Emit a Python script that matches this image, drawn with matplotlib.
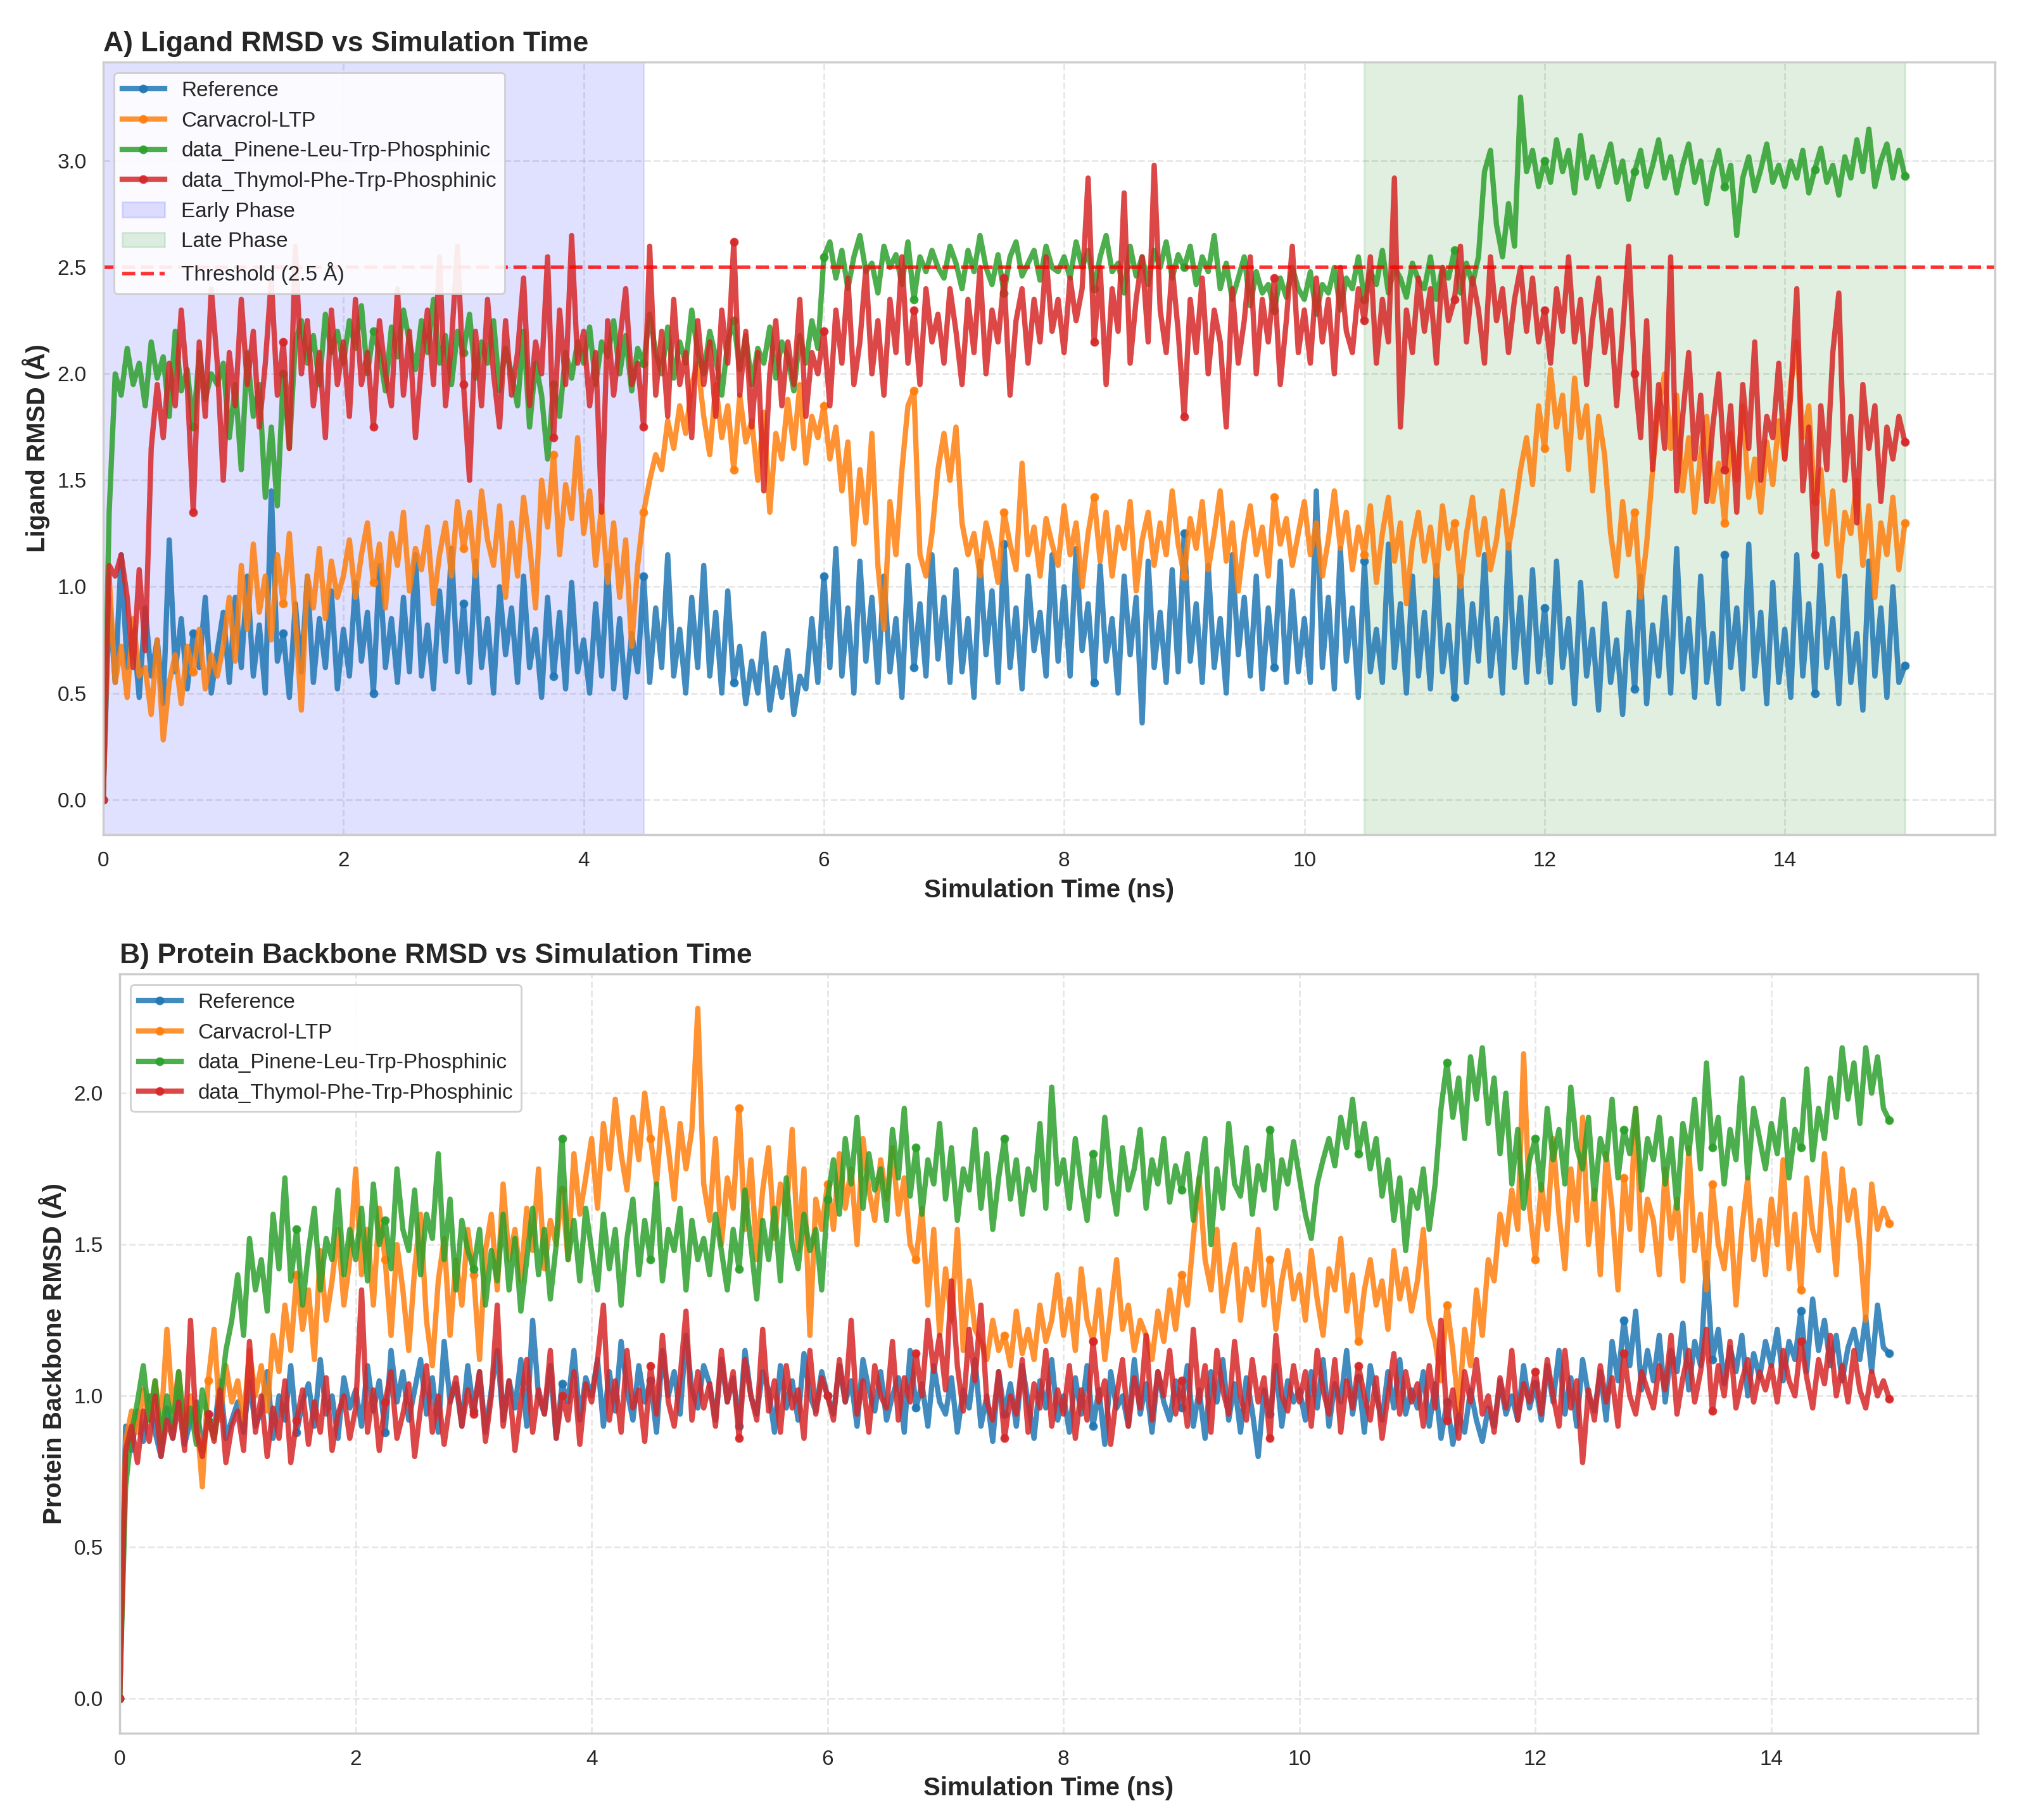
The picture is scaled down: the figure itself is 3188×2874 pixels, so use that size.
import numpy as np
import matplotlib
matplotlib.use('Agg')
import matplotlib.pyplot as plt

dt = 0.05  # ns between stored frames

# ---------------- Panel A: ligand RMSD (Å) ----------------
lig_ref = [
    0.00, 0.95, 0.55, 1.15, 0.62, 0.80, 0.48, 0.90, 0.58, 0.75, 0.45, 1.22, 0.60, 0.85, 0.52, 0.78, 0.62, 0.95, 0.50, 0.70,
    0.88, 0.55, 0.95, 0.62, 1.05, 0.58, 0.82, 0.50, 1.45, 0.65, 0.78, 0.48, 0.92, 0.60, 1.05, 0.55, 0.85, 0.62, 0.98, 0.52,
    0.80, 0.58, 1.02, 0.65, 0.88, 0.50, 1.10, 0.62, 0.85, 0.55, 0.95, 0.60, 1.15, 0.58, 0.82, 0.52, 0.98, 0.65, 1.18, 0.60,
    0.92, 0.55, 1.12, 0.62, 0.85, 0.50, 1.00, 0.68, 0.90, 0.55, 1.05, 0.62, 0.80, 0.48, 0.95, 0.58, 0.88, 0.52, 1.02, 0.60,
    0.75, 0.50, 0.92, 0.58, 1.10, 0.52, 0.85, 0.48, 0.78, 0.60, 1.05, 0.55, 0.90, 0.62, 1.15, 0.58, 0.80, 0.50, 0.95, 0.62,
    1.10, 0.58, 0.88, 0.50, 0.98, 0.55, 0.72, 0.45, 0.65, 0.50, 0.78, 0.42, 0.62, 0.48, 0.70, 0.40, 0.58, 0.52, 0.85, 0.55,
    1.05, 0.62, 1.18, 0.58, 0.90, 0.50, 1.12, 0.65, 0.95, 0.55, 1.05, 0.60, 0.85, 0.48, 1.10, 0.62, 0.92, 0.58, 1.15, 0.66,
    0.95, 0.55, 1.08, 0.60, 0.85, 0.48, 1.12, 0.68, 0.98, 0.55, 1.20, 0.62, 0.90, 0.52, 1.05, 0.70, 0.88, 0.58, 1.15, 0.65,
    1.00, 0.58, 1.18, 0.70, 0.92, 0.55, 1.10, 0.65, 0.85, 0.50, 1.05, 0.68, 0.95, 0.36, 1.12, 0.62, 0.88, 0.55, 1.08, 0.60,
    1.25, 0.65, 0.92, 0.55, 1.10, 0.62, 0.85, 0.50, 1.15, 0.68, 0.95, 0.58, 1.05, 0.52, 0.90, 0.62, 1.12, 0.55, 0.98, 0.60,
    0.85, 0.55, 1.45, 0.62, 0.95, 0.52, 1.18, 0.65, 0.90, 0.48, 1.12, 0.60, 0.80, 0.55, 1.20, 0.62, 0.92, 0.50, 1.05, 0.58,
    0.88, 0.52, 1.10, 0.60, 0.82, 0.48, 1.05, 0.55, 0.92, 0.65, 1.15, 0.58, 0.85, 0.50, 1.20, 0.62, 0.95, 0.55, 1.08, 0.60,
    0.90, 0.55, 1.12, 0.62, 0.85, 0.45, 1.02, 0.58, 0.80, 0.42, 0.92, 0.55, 0.75, 0.40, 0.88, 0.52, 1.05, 0.45, 0.82, 0.58,
    0.95, 0.50, 1.18, 0.60, 0.85, 0.48, 1.05, 0.55, 0.78, 0.45, 1.15, 0.62, 0.90, 0.52, 1.20, 0.58, 0.88, 0.45, 1.02, 0.55,
    0.80, 0.48, 1.15, 0.58, 0.92, 0.50, 1.10, 0.62, 0.85, 0.45, 1.05, 0.55, 0.78, 0.42, 1.12, 0.58, 0.90, 0.48, 1.00, 0.55,
    0.63]

lig_carv = [
    0.00, 1.05, 0.55, 0.72, 0.48, 0.85, 0.58, 0.62, 0.40, 0.75, 0.28, 0.55, 0.68, 0.45, 0.72, 0.60, 0.80, 0.52, 0.68, 0.58,
    0.72, 0.95, 0.65, 1.10, 0.80, 1.20, 0.88, 1.05, 0.75, 1.15, 0.92, 1.25, 0.85, 0.42, 1.05, 0.90, 1.18, 0.85, 1.12, 0.95,
    1.05, 1.22, 0.95, 1.15, 1.30, 1.02, 1.20, 0.90, 1.25, 1.10, 1.35, 0.98, 1.18, 1.08, 1.28, 0.92, 1.15, 1.30, 1.05, 1.40,
    1.18, 1.35, 1.05, 1.45, 1.22, 1.10, 1.38, 0.95, 1.30, 1.05, 1.42, 1.20, 0.90, 1.50, 1.28, 1.62, 1.15, 1.48, 1.32, 1.70,
    1.25, 1.45, 1.10, 1.38, 1.02, 1.30, 0.95, 1.22, 0.72, 1.10, 1.35, 1.50, 1.62, 1.55, 1.78, 1.65, 1.85, 1.72, 1.95, 2.05,
    1.80, 1.62, 1.95, 1.70, 1.85, 1.55, 1.90, 1.68, 1.78, 1.50, 1.82, 1.35, 1.72, 1.60, 1.88, 1.65, 1.95, 1.58, 1.80, 1.70,
    1.85, 1.60, 1.75, 1.45, 1.68, 1.20, 1.55, 1.30, 1.72, 1.10, 0.80, 1.40, 1.15, 1.55, 1.85, 1.92, 1.15, 1.05, 1.25, 1.55,
    1.72, 1.50, 1.75, 1.30, 1.15, 1.25, 1.05, 1.30, 1.18, 1.02, 1.35, 1.20, 1.08, 1.58, 1.15, 1.28, 1.05, 1.32, 1.20, 1.10,
    1.38, 1.15, 1.30, 1.00, 1.25, 1.42, 1.12, 1.35, 1.05, 1.28, 1.18, 1.40, 0.98, 1.22, 1.35, 1.10, 1.30, 1.15, 1.45, 1.20,
    1.05, 1.32, 1.18, 1.40, 1.08, 1.25, 1.45, 1.12, 1.30, 0.98, 1.22, 1.38, 1.15, 1.28, 1.05, 1.42, 1.20, 1.32, 1.10, 1.25,
    1.40, 1.15, 1.30, 1.05, 1.22, 1.45, 1.18, 1.35, 1.08, 1.28, 1.15, 1.38, 1.02, 1.25, 1.42, 1.12, 1.30, 0.92, 1.20, 1.35,
    1.12, 1.28, 1.05, 1.38, 1.18, 1.30, 1.00, 1.25, 1.42, 1.15, 1.32, 1.08, 1.22, 1.45, 1.18, 1.35, 1.55, 1.70, 1.48, 1.85,
    1.65, 2.02, 1.75, 1.90, 1.55, 1.98, 1.70, 1.85, 1.45, 1.80, 1.62, 1.25, 1.05, 1.40, 1.15, 1.35, 0.95, 1.20, 1.55, 1.85,
    2.00, 1.65, 1.90, 1.45, 1.70, 1.35, 1.62, 1.80, 1.40, 1.58, 1.30, 1.72, 1.50, 1.85, 1.42, 1.60, 1.35, 1.68, 1.48, 1.78,
    1.60, 1.95, 2.15, 1.70, 1.85, 1.40, 1.55, 1.20, 1.45, 1.05, 1.35, 1.25, 1.50, 1.10, 1.38, 0.95, 1.30, 1.15, 1.42, 1.08,
    1.30]

lig_pin = [
    0.00, 1.35, 2.00, 1.90, 2.12, 1.95, 2.05, 1.85, 2.15, 1.98, 2.08, 1.80, 2.20, 1.92, 2.02, 1.75, 2.10, 1.88, 2.00, 1.95,
    2.05, 1.70, 1.95, 1.55, 2.10, 1.80, 1.95, 1.42, 1.75, 1.38, 2.00, 1.65, 2.15, 2.25, 2.05, 2.18, 1.95, 2.28, 2.10, 2.20,
    2.05, 2.25, 2.12, 2.32, 2.00, 2.20, 2.10, 1.92, 2.22, 2.08, 2.30, 2.15, 2.02, 2.25, 2.10, 2.35, 2.05, 2.18, 1.95, 2.20,
    2.10, 2.28, 1.98, 2.15, 2.05, 2.25, 1.92, 2.12, 2.00, 1.85, 2.20, 1.75, 2.05, 1.90, 1.60, 1.95, 1.80, 2.10, 1.98, 2.15,
    2.05, 2.22, 1.95, 2.15, 2.08, 2.25, 2.00, 2.18, 1.92, 2.12, 2.05, 2.28, 2.10, 2.00, 2.22, 1.98, 2.15, 2.05, 2.30, 2.10,
    2.00, 2.20, 2.08, 1.90, 2.15, 2.25, 2.02, 2.18, 1.95, 2.12, 2.05, 2.22, 1.98, 2.15, 2.08, 1.92, 2.18, 2.05, 2.25, 2.12,
    2.55, 2.62, 2.45, 2.58, 2.40, 2.55, 2.65, 2.48, 2.52, 2.38, 2.60, 2.50, 2.56, 2.42, 2.62, 2.35, 2.55, 2.48, 2.58, 2.50,
    2.45, 2.60, 2.52, 2.40, 2.58, 2.48, 2.65, 2.50, 2.42, 2.56, 2.38, 2.55, 2.62, 2.46, 2.52, 2.58, 2.44, 2.60, 2.50, 2.48,
    2.55, 2.45, 2.62, 2.50, 2.58, 2.40, 2.55, 2.65, 2.48, 2.52, 2.38, 2.60, 2.46, 2.55, 2.42, 2.58, 2.50, 2.62, 2.45, 2.56,
    2.50, 2.60, 2.42, 2.55, 2.48, 2.65, 2.40, 2.52, 2.35, 2.45, 2.55, 2.32, 2.48, 2.38, 2.42, 2.30, 2.45, 2.36, 2.50, 2.40,
    2.35, 2.48, 2.28, 2.42, 2.38, 2.50, 2.30, 2.45, 2.40, 2.55, 2.35, 2.48, 2.42, 2.58, 2.38, 2.50, 2.45, 2.36, 2.52, 2.44,
    2.40, 2.55, 2.35, 2.50, 2.45, 2.58, 2.38, 2.52, 2.42, 2.55, 2.95, 3.05, 2.70, 2.55, 2.80, 2.60, 3.30, 2.95, 3.05, 2.88,
    3.00, 2.90, 3.10, 2.95, 3.05, 2.85, 3.12, 2.92, 3.02, 2.88, 2.98, 3.08, 2.90, 3.00, 2.82, 2.95, 3.05, 2.88, 2.98, 3.10,
    2.92, 3.02, 2.85, 2.98, 3.08, 2.90, 3.00, 2.80, 2.95, 3.05, 2.88, 2.98, 2.65, 2.92, 3.02, 2.86, 2.96, 3.08, 2.90, 2.98,
    2.88, 3.00, 2.92, 3.05, 2.85, 2.96, 3.06, 2.90, 2.98, 2.84, 3.02, 2.92, 3.10, 2.95, 3.15, 2.88, 3.00, 3.08, 2.92, 3.05,
    2.93]

lig_thy = [
    0.00, 1.10, 1.05, 1.15, 0.95, 0.62, 1.08, 0.70, 1.65, 1.95, 1.70, 2.05, 1.85, 2.30, 1.95, 1.35, 2.15, 1.80, 2.40, 2.05,
    1.50, 2.10, 1.85, 2.35, 1.95, 2.20, 1.75, 2.05, 2.45, 1.90, 2.15, 1.65, 2.60, 2.00, 2.25, 1.85, 2.10, 1.70, 2.30, 1.95,
    2.15, 1.80, 2.35, 1.95, 2.10, 1.75, 2.25, 2.00, 1.85, 2.40, 1.90, 2.20, 1.70, 2.05, 2.30, 1.95, 2.55, 1.85, 2.15, 2.60,
    1.95, 1.50, 2.20, 1.85, 2.35, 2.00, 1.75, 2.25, 1.90, 2.10, 2.45, 1.85, 2.15, 2.00, 2.55, 1.70, 2.30, 1.95, 2.65, 2.05,
    2.20, 1.85, 2.10, 1.35, 2.25, 1.90, 2.15, 2.40, 1.95, 2.05, 1.75, 2.60, 1.90, 2.20, 1.80, 2.35, 1.95, 2.10, 1.70, 2.25,
    1.95, 2.15, 1.80, 2.30, 2.05, 2.62, 1.90, 2.20, 1.75, 2.10, 1.45, 2.00, 2.25, 1.85, 2.15, 1.95, 2.35, 1.80, 2.10, 2.00,
    2.20, 1.85, 2.30, 2.05, 2.45, 1.95, 2.15, 2.50, 2.00, 2.25, 1.90, 2.35, 2.10, 2.55, 2.05, 2.30, 1.95, 2.40, 2.15, 2.28,
    2.05, 2.40, 2.20, 1.95, 2.35, 2.10, 2.50, 2.00, 2.30, 2.15, 2.45, 1.90, 2.25, 2.40, 2.05, 2.35, 2.15, 2.55, 2.20, 2.35,
    2.10, 2.45, 2.25, 2.40, 2.92, 2.15, 2.50, 1.95, 2.40, 2.20, 2.85, 2.05, 2.35, 2.55, 2.15, 2.98, 2.30, 2.10, 2.50, 2.20,
    1.80, 2.35, 2.10, 2.45, 2.00, 2.30, 2.15, 1.75, 2.40, 2.05, 2.25, 2.55, 2.00, 2.35, 2.15, 2.45, 1.95, 2.25, 2.60, 2.10,
    2.30, 2.05, 2.45, 2.15, 2.35, 2.00, 2.50, 2.20, 2.10, 2.40, 2.25, 2.55, 2.05, 2.35, 2.15, 2.92, 1.75, 2.30, 2.10, 2.45,
    2.20, 2.40, 2.05, 2.50, 2.25, 2.35, 2.60, 2.15, 2.45, 2.30, 2.05, 2.55, 2.25, 2.40, 2.10, 2.35, 2.50, 2.20, 2.45, 2.15,
    2.30, 2.05, 2.40, 2.20, 2.55, 2.15, 2.35, 1.95, 2.25, 2.45, 2.10, 2.30, 1.85, 2.20, 2.60, 2.00, 1.70, 2.25, 1.55, 1.95,
    1.65, 2.55, 1.45, 1.80, 2.10, 1.60, 1.90, 1.40, 1.75, 2.00, 1.55, 1.85, 1.35, 1.95, 1.65, 2.15, 1.50, 1.80, 1.70, 2.05,
    1.60, 1.90, 2.40, 1.45, 1.75, 1.15, 1.85, 1.55, 2.10, 2.38, 1.50, 1.80, 1.30, 1.95, 1.65, 1.85, 1.40, 1.75, 1.60, 1.80,
    1.68]

# ---------------- Panel B: protein backbone RMSD (Å) ----------------
bb_ref = [
    0.00, 0.90, 0.82, 0.95, 0.85, 1.00, 0.88, 0.80, 0.96, 0.86, 1.02, 0.84, 0.92, 0.98, 0.82, 0.94, 0.88, 1.05, 0.86, 0.92,
    0.98, 0.88, 1.05, 0.90, 0.95, 1.08, 0.86, 1.00, 0.92, 1.10, 0.88, 0.98, 1.04, 0.90, 1.12, 0.94, 1.00, 0.86, 1.06, 0.96,
    1.02, 0.90, 1.10, 0.95, 1.05, 0.88, 1.15, 0.98, 1.08, 0.92, 1.02, 1.12, 0.94, 1.06, 0.88, 1.18, 0.98, 1.04, 0.90, 1.10,
    0.95, 1.08, 0.88, 1.02, 1.15, 0.92, 1.05, 0.96, 1.12, 0.90, 1.25, 1.00, 0.94, 1.10, 0.86, 1.04, 0.98, 1.15, 0.92, 1.06,
    1.00, 1.12, 0.90, 1.08, 0.95, 1.18, 1.02, 0.92, 1.10, 0.98, 1.05, 0.88, 1.15, 1.00, 1.08, 0.94, 1.20, 1.02, 0.96, 1.10,
    1.04, 0.92, 1.12, 0.98, 1.06, 0.90, 1.15, 1.00, 0.94, 1.08, 1.02, 0.88, 1.10, 0.96, 1.05, 0.92, 1.14, 1.00, 0.95, 1.08,
    1.00, 0.94, 1.10, 0.98, 1.05, 0.90, 1.12, 1.02, 0.95, 1.08, 0.92, 1.00, 1.06, 0.88, 1.15, 0.96, 1.04, 0.90, 1.10, 0.98,
    0.94, 1.06, 0.88, 1.02, 0.96, 1.12, 0.90, 1.00, 0.85, 1.08, 0.94, 1.04, 0.90, 1.10, 0.98, 0.86, 1.05, 0.96, 1.12, 0.92,
    1.00, 0.88, 1.06, 0.94, 1.10, 0.90, 1.02, 0.84, 1.08, 0.96, 1.00, 0.90, 1.12, 0.94, 1.04, 0.88, 1.08, 0.98, 0.92, 1.05,
    0.96, 1.10, 0.90, 1.02, 0.86, 1.08, 0.98, 1.12, 0.92, 1.04, 0.88, 1.06, 0.95, 0.80, 1.02, 0.94, 1.10, 0.90, 1.05, 0.98,
    1.02, 0.92, 1.08, 0.96, 1.12, 0.90, 1.04, 0.98, 1.15, 0.94, 1.06, 0.88, 1.10, 1.00, 0.92, 1.08, 0.96, 1.12, 0.94, 1.02,
    0.96, 1.08, 0.90, 1.04, 0.86, 0.98, 0.84, 0.94, 0.88, 1.02, 0.92, 0.85, 0.96, 0.90, 1.05, 0.94, 1.00, 0.92, 1.10, 0.96,
    1.04, 0.92, 1.10, 0.98, 1.15, 0.94, 1.06, 0.90, 1.12, 1.00, 0.95, 1.08, 0.92, 1.18, 1.05, 1.25, 1.10, 1.28, 1.02, 1.15,
    1.05, 1.20, 0.98, 1.15, 1.08, 1.24, 1.02, 1.18, 1.10, 1.44, 1.12, 1.22, 1.04, 1.16, 1.08, 1.20, 1.00, 1.14, 1.06, 1.18,
    1.10, 1.22, 1.05, 1.18, 1.12, 1.28, 1.08, 1.32, 1.15, 1.25, 1.10, 1.20, 1.05, 1.16, 1.22, 1.12, 1.26, 1.08, 1.30, 1.16,
    1.14]

bb_carv = [
    0.00, 0.85, 0.95, 0.88, 1.02, 0.92, 1.05, 0.90, 1.22, 0.95, 1.08, 0.88, 1.00, 0.94, 0.70, 1.05, 1.22, 0.92, 1.10, 0.98,
    1.05, 0.92, 1.15, 1.00, 1.10, 0.95, 1.20, 1.08, 1.30, 1.15, 1.40, 1.22, 1.35, 1.12, 1.48, 1.25, 1.38, 1.55, 1.30, 1.45,
    1.75, 1.40, 1.55, 1.30, 1.62, 1.45, 1.20, 1.50, 1.35, 1.15, 1.42, 1.60, 1.25, 1.10, 1.38, 1.52, 1.20, 1.45, 1.30, 1.55,
    1.40, 1.12, 1.48, 1.60, 1.35, 1.70, 1.45, 1.55, 1.38, 1.62, 1.48, 1.75, 1.42, 1.58, 1.50, 1.68, 1.45, 1.80, 1.60, 1.72,
    1.85, 1.62, 1.90, 1.75, 1.98, 1.80, 1.68, 1.92, 1.78, 2.00, 1.85, 1.70, 1.95, 1.82, 1.65, 1.90, 1.75, 1.88, 2.28, 1.70,
    1.58, 1.85, 1.50, 1.72, 1.62, 1.95, 1.55, 1.78, 1.45, 1.68, 1.82, 1.52, 1.70, 1.60, 1.88, 1.48, 1.75, 1.20, 1.65, 1.55,
    1.70, 1.55, 1.80, 1.62, 1.75, 1.50, 1.85, 1.68, 1.58, 1.78, 1.65, 1.82, 1.60, 1.72, 1.50, 1.45, 1.62, 1.30, 1.55, 1.20,
    1.42, 1.25, 1.55, 1.15, 1.38, 1.22, 1.18, 1.12, 1.25, 1.15, 1.20, 1.10, 1.28, 1.14, 1.22, 1.12, 1.30, 1.18, 1.25, 1.40,
    1.20, 1.32, 1.15, 1.42, 1.25, 1.18, 1.35, 1.12, 1.28, 1.45, 1.22, 1.30, 1.15, 1.25, 1.20, 1.12, 1.28, 1.18, 1.35, 1.22,
    1.40, 1.30, 1.52, 1.72, 1.45, 1.35, 1.55, 1.28, 1.40, 1.50, 1.25, 1.42, 1.35, 1.55, 1.30, 1.45, 1.22, 1.38, 1.48, 1.32,
    1.40, 1.25, 1.48, 1.32, 1.20, 1.42, 1.35, 1.52, 1.28, 1.40, 1.18, 1.35, 1.45, 1.30, 1.38, 1.22, 1.48, 1.32, 1.42, 1.28,
    1.38, 1.55, 1.25, 1.18, 1.05, 1.30, 1.15, 0.95, 1.22, 1.10, 1.35, 1.20, 1.45, 1.38, 1.60, 1.50, 1.68, 1.55, 2.13, 1.62,
    1.45, 1.70, 1.55, 1.85, 1.60, 1.42, 1.75, 1.58, 1.92, 1.50, 1.68, 1.40, 1.80, 1.62, 1.35, 1.72, 1.55, 1.95, 1.48, 1.65,
    1.58, 1.40, 1.75, 1.52, 1.65, 1.38, 1.82, 1.48, 1.60, 1.35, 1.70, 1.50, 1.42, 1.62, 1.30, 1.55, 1.72, 1.45, 1.58, 1.40,
    1.65, 1.50, 1.78, 1.42, 1.60, 1.35, 1.72, 1.55, 1.48, 1.80, 1.62, 1.40, 1.75, 1.58, 1.68, 1.50, 1.25, 1.70, 1.55, 1.62,
    1.57]

bb_pin = [
    0.00, 0.70, 0.88, 0.98, 1.10, 0.92, 1.05, 0.85, 1.00, 0.90, 1.08, 0.88, 0.96, 0.84, 1.02, 0.92, 0.86, 0.98, 1.15, 1.25,
    1.40, 1.20, 1.52, 1.35, 1.45, 1.28, 1.60, 1.42, 1.72, 1.38, 1.55, 1.30, 1.48, 1.62, 1.35, 1.52, 1.45, 1.68, 1.40, 1.55,
    1.45, 1.62, 1.38, 1.70, 1.50, 1.58, 1.42, 1.75, 1.55, 1.48, 1.68, 1.40, 1.60, 1.52, 1.80, 1.45, 1.65, 1.35, 1.58, 1.48,
    1.42, 1.55, 1.30, 1.48, 1.38, 1.60, 1.35, 1.52, 1.28, 1.45, 1.62, 1.40, 1.55, 1.32, 1.50, 1.85, 1.45, 1.58, 1.38, 1.62,
    1.48, 1.35, 1.60, 1.42, 1.55, 1.30, 1.52, 1.65, 1.40, 1.58, 1.45, 1.70, 1.38, 1.55, 1.48, 1.62, 1.35, 1.58, 1.45, 1.52,
    1.40, 1.60, 1.48, 1.35, 1.55, 1.42, 1.68, 1.50, 1.32, 1.58, 1.45, 1.62, 1.38, 1.72, 1.50, 1.42, 1.60, 1.48, 1.55, 1.35,
    1.65, 1.78, 1.60, 1.85, 1.70, 1.92, 1.62, 1.80, 1.68, 1.75, 1.58, 1.88, 1.72, 1.95, 1.66, 1.82, 1.60, 1.78, 1.70, 1.90,
    1.65, 1.82, 1.58, 1.75, 1.68, 1.88, 1.62, 1.80, 1.55, 1.72, 1.85, 1.65, 1.78, 1.60, 1.75, 1.68, 1.90, 1.62, 2.02, 1.70,
    1.78, 1.62, 1.85, 1.70, 1.58, 1.80, 1.66, 1.92, 1.72, 1.60, 1.82, 1.68, 1.75, 1.88, 1.62, 1.78, 1.70, 1.85, 1.64, 1.76,
    1.68, 1.80, 1.58, 1.72, 1.85, 1.50, 1.75, 1.62, 1.90, 1.70, 1.66, 1.82, 1.60, 1.76, 1.68, 1.88, 1.62, 1.78, 1.70, 1.84,
    1.72, 1.60, 1.52, 1.70, 1.78, 1.85, 1.76, 1.92, 1.82, 1.98, 1.80, 1.90, 1.75, 1.85, 1.66, 1.78, 1.58, 1.72, 1.48, 1.68,
    1.62, 1.75, 1.55, 1.70, 1.95, 2.10, 1.92, 2.05, 1.85, 2.12, 1.98, 2.15, 1.90, 2.05, 1.80, 2.00, 1.70, 1.88, 1.62, 1.78,
    1.85, 1.68, 1.95, 1.78, 1.88, 1.70, 2.02, 1.82, 1.75, 1.92, 1.65, 1.85, 1.78, 1.98, 1.72, 1.88, 1.80, 1.95, 1.68, 1.85,
    1.78, 1.92, 1.70, 1.85, 1.62, 1.90, 1.80, 1.98, 1.75, 2.10, 1.82, 1.92, 1.70, 1.88, 1.78, 2.05, 1.72, 1.95, 1.85, 1.75,
    1.90, 1.80, 1.98, 1.72, 1.88, 1.82, 2.08, 1.78, 1.95, 1.85, 2.05, 1.92, 2.15, 1.98, 2.10, 1.90, 2.15, 2.00, 2.12, 1.95,
    1.91]

bb_thy = [
    0.00, 0.82, 0.90, 0.78, 0.95, 0.85, 1.00, 0.80, 0.92, 0.86, 0.98, 0.82, 1.25, 0.88, 0.80, 0.94, 0.85, 1.02, 0.78, 0.90,
    0.95, 0.82, 1.18, 0.88, 1.00, 0.80, 0.96, 0.86, 1.05, 0.78, 0.92, 1.02, 0.84, 0.98, 0.88, 1.06, 0.82, 0.94, 1.00, 0.86,
    0.96, 1.35, 0.88, 1.02, 0.82, 0.98, 1.08, 0.86, 0.94, 1.04, 0.80, 0.96, 1.10, 0.88, 1.00, 0.84, 0.98, 1.06, 0.90, 1.02,
    0.94, 1.08, 0.85, 1.00, 1.30, 0.90, 1.05, 0.82, 0.98, 1.12, 0.88, 1.02, 0.94, 1.15, 0.86, 1.00, 0.92, 1.08, 0.84, 1.04,
    0.98, 1.12, 1.30, 0.92, 1.05, 0.88, 1.15, 0.96, 1.02, 0.85, 1.10, 0.94, 1.20, 0.98, 0.90, 1.06, 1.28, 0.92, 1.08, 0.96,
    1.04, 0.90, 1.15, 0.98, 1.08, 0.86, 1.12, 1.00, 0.92, 1.22, 0.95, 1.05, 0.88, 1.10, 0.96, 1.02, 0.86, 1.15, 0.94, 1.06,
    1.00, 0.92, 1.12, 0.98, 1.25, 0.94, 1.05, 0.88, 1.10, 1.00, 0.96, 1.18, 0.92, 1.06, 0.98, 1.14, 1.00, 1.25, 1.08, 1.20,
    1.02, 1.38, 1.10, 0.95, 1.22, 1.05, 1.30, 0.98, 0.92, 1.08, 0.86, 1.00, 0.94, 1.12, 0.88, 1.04, 0.96, 1.15, 0.90, 1.02,
    0.94, 1.10, 0.86, 1.02, 0.92, 1.18, 0.98, 1.05, 0.84, 1.00, 1.12, 0.90, 1.06, 0.96, 1.20, 0.92, 1.08, 1.00, 1.15, 0.94,
    1.05, 0.90, 1.22, 0.98, 1.10, 0.88, 1.15, 1.02, 0.94, 1.18, 1.00, 0.92, 1.12, 0.98, 1.06, 0.86, 1.20, 1.00, 0.95, 1.10,
    0.98, 1.08, 0.90, 1.15, 1.02, 0.94, 1.12, 0.88, 1.05, 0.96, 1.10, 1.00, 0.92, 1.06, 0.86, 1.00, 1.14, 0.94, 1.08, 0.98,
    1.04, 0.90, 1.10, 0.96, 1.25, 0.92, 1.02, 0.86, 1.08, 0.98, 1.12, 0.94, 1.00, 0.88, 1.06, 0.96, 1.15, 0.92, 1.04, 0.98,
    1.08, 0.94, 1.12, 1.00, 0.90, 1.15, 0.96, 1.05, 0.78, 1.02, 0.92, 1.10, 0.98, 1.06, 0.90, 1.14, 1.00, 0.94, 1.08, 1.02,
    0.96, 1.10, 1.02, 1.20, 0.94, 1.06, 1.15, 0.98, 1.08, 1.22, 0.95, 1.10, 1.00, 1.18, 0.96, 1.05, 1.12, 0.98, 1.08, 1.02,
    1.10, 0.98, 1.15, 1.05, 1.00, 1.18, 1.06, 0.96, 1.12, 1.04, 1.20, 1.00, 1.10, 0.98, 1.15, 1.02, 0.96, 1.08, 1.00, 1.05,
    0.99]

labels = ['Reference', 'Carvacrol-LTP', 'data_Pinene-Leu-Trp-Phosphinic', 'data_Thymol-Phe-Trp-Phosphinic']
colors = ['#1f77b4', '#ff7f0e', '#2ca02c', '#d62728']
ligand_series = [lig_ref, lig_carv, lig_pin, lig_thy]
backbone_series = [bb_ref, bb_carv, bb_pin, bb_thy]

early_phase = (0.0, 4.5)
late_phase = (10.5, 15.0)
threshold = 2.5

plt.rcParams['font.family'] = ['Liberation Sans', 'DejaVu Sans']
plt.rcParams['axes.edgecolor'] = '#cccccc'
plt.rcParams['axes.linewidth'] = 1.25
plt.rcParams['xtick.color'] = '#262626'
plt.rcParams['ytick.color'] = '#262626'
plt.rcParams['xtick.major.size'] = 0
plt.rcParams['ytick.major.size'] = 0
plt.rcParams['xtick.major.pad'] = 9.5
plt.rcParams['ytick.major.pad'] = 9.5
plt.rcParams['xtick.labelsize'] = 12
plt.rcParams['ytick.labelsize'] = 12
plt.rcParams['text.color'] = '#262626'
plt.rcParams['axes.labelcolor'] = '#262626'

fig = plt.figure(figsize=(15.94, 14.37), dpi=200)
ax1 = fig.add_axes([0.0511, 0.5414, 0.9370, 0.4245])
ax2 = fig.add_axes([0.0593, 0.0477, 0.9203, 0.4172])


def draw_series(ax, series_list):
    for vals, lab, col in zip(series_list, labels, colors):
        t = np.arange(len(vals)) * dt
        ax.plot(t, vals, color=col, linewidth=3, alpha=0.85, label=lab,
                marker='o', markersize=4, markevery=15)


draw_series(ax1, ligand_series)
ax1.axvspan(*early_phase, color='blue', alpha=0.12, label='Early Phase')
ax1.axvspan(*late_phase, color='green', alpha=0.12, label='Late Phase')
ax1.axhline(threshold, color='red', linestyle='--', linewidth=2, alpha=0.8,
            label='Threshold (2.5 Å)')

draw_series(ax2, backbone_series)

for ax in (ax1, ax2):
    ax.set_xlim(left=0)
    ax.grid(True, linestyle='--', alpha=0.3, color='#b0b0b0', linewidth=1)
    ax.set_axisbelow(True)
    ax.set_xlabel('Simulation Time (ns)', fontsize=14.5, fontweight='bold')
    ax.legend(loc='upper left', fontsize=12, frameon=True, framealpha=0.9,
              edgecolor='#cccccc')

ax1.set_ylabel('Ligand RMSD (Å)', fontsize=14.5, fontweight='bold')
ax2.set_ylabel('Protein Backbone RMSD (Å)', fontsize=14.5, fontweight='bold')
ax1.set_title('A) Ligand RMSD vs Simulation Time', loc='left', fontsize=16,
              fontweight='bold')
ax2.set_title('B) Protein Backbone RMSD vs Simulation Time', loc='left',
              fontsize=16, fontweight='bold')

fig.savefig('out.png', dpi=200)
